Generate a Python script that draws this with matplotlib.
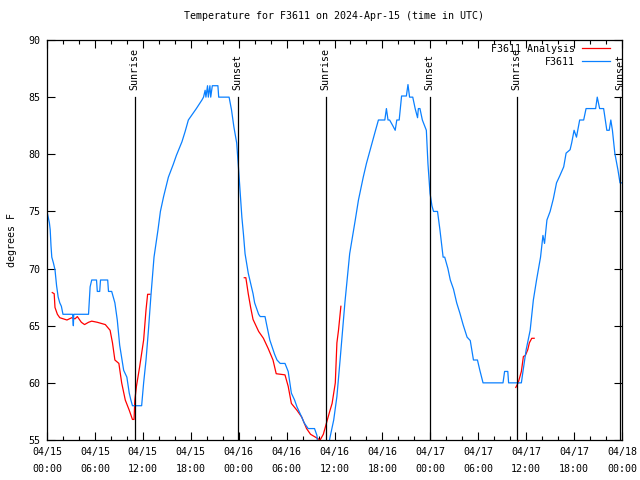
import numpy as np
import matplotlib
matplotlib.use("Agg")
import matplotlib.pyplot as plt

# ---- data (hours since 2024-04-15 00:00 UTC, degrees F) ----
obs_h = [0.0,0.3,0.4,0.5,0.6,0.8,1.0,1.2,1.4,1.6,1.8,2.0,3.2,3.3,3.35,5.2,5.4,5.6,6.2,6.3,6.6,6.7,7.6,7.7,8.1,8.3,8.5,8.7,8.8,9.0,9.1,9.4,9.6,10.0,10.3,10.5,10.7,11.85,12.1,12.4,12.7,13.0,13.4,13.9,14.2,14.6,15.2,15.8,16.2,16.9,17.3,17.7,18.7,19.4,19.6,19.8,19.9,20.1,20.2,20.4,20.5,20.7,21.4,21.5,22.8,23.1,23.4,23.75,24.0,24.2,24.4,24.6,24.8,25.2,25.4,25.8,26.0,26.5,26.7,27.3,27.5,27.9,28.5,28.8,29.2,29.8,30.2,30.6,31.0,31.3,31.9,32.2,32.7,33.5,33.8,33.9,35.3,35.4,35.9,36.3,36.7,37.3,37.9,38.6,39.0,39.6,40.0,40.7,41.1,41.5,42.3,42.5,42.7,42.9,43.3,43.6,43.8,44.1,44.4,45.0,45.2,45.4,45.8,46.1,46.4,46.5,46.7,47.0,47.5,47.7,47.96,48.2,48.4,48.9,49.2,49.6,49.8,50.2,50.5,50.9,51.3,51.7,52.1,52.6,53.0,53.4,53.9,54.2,54.6,57.1,57.3,57.7,57.8,59.4,59.6,60.0,60.5,60.9,61.3,61.8,62.1,62.3,62.6,63.0,63.4,63.8,64.2,64.7,65.0,65.5,65.7,66.0,66.3,66.7,67.2,67.5,68.7,68.9,69.2,69.7,70.1,70.4,70.6,70.8,71.1,71.5,71.75,71.95]
obs_t = [75.0,74,73.4,72,71,70.5,69.9,68.5,67.5,67,66.7,66,66,65,66,66,68.4,69,69,68,68,69,69,68,68,67.5,67,66,65.5,64,63.3,62,61.1,60.5,59.1,58.5,58,58,60,62,64.6,67.5,71,73.4,75,76.3,78,79.1,79.9,81.1,82,83,84,84.75,85,85.6,85,86,85,86,85,86,86,85,85,83.9,82.4,81,78.6,76.5,74.5,73,71.3,69.6,69,67.8,67,66,65.8,65.8,65.1,63.75,62.5,62,61.7,61.7,61,59.1,58.5,57.9,57.0,56.5,56.0,56.0,55.4,54.5,54.5,55.1,56.75,58.8,62,67,71.3,74.25,76,78,79.2,81,82,83,83,84,83,83,82.5,82.1,83,83,85.1,85.1,86.1,85,85,84,83.2,84,84,83,82.1,79.2,76.6,75.5,75,75,73.4,71.0,71,70,69,68.2,67,66.1,65.1,64,63.7,62,62,61.1,60,60,61,61,60,60,61,62.9,64.6,67.25,69,71,72.9,72.2,74.25,75,76.1,77.5,78.1,78.9,80.1,80.4,81,82.1,81.5,83,83,84,84,85,84,84,82.1,82.1,83,82.1,80.1,78.6,77.5,77.5]

ana1_h = [0.66,0.9,1.0,1.3,1.6,2.5,3.1,3.5,3.8,4.0,4.3,4.7,5.2,5.6,6.3,7.3,7.9,8.2,8.5,9.0,9.35,9.8,10.3,10.7,10.9,11.0,11.2,11.6,12.1,12.4,12.6,12.9]
ana1_t = [67.9,67.8,66.6,66,65.7,65.5,65.7,65.6,65.8,65.6,65.3,65.1,65.3,65.4,65.3,65.1,64.6,63.5,62,61.7,60,58.5,57.6,56.8,56.8,58.5,59.7,61.4,63.75,66.4,67.75,67.75]
ana2_h = [24.7,24.9,25.2,25.5,25.8,26.5,27.1,27.7,28.3,28.7,29.8,30.2,30.6,31.3,31.9,32.5,33.0,33.85,34.2,34.6,35.0,35.4,35.7,36.1,36.3,36.5,36.8]
ana2_t = [69.2,69.2,67.8,66.6,65.55,64.5,63.9,63.0,62,60.8,60.7,59.7,58.2,57.6,57.0,56,55.5,55.15,55.0,55.5,56.5,57.5,58.2,60,63.5,64.6,66.7]
ana3_h = [58.7,59.0,59.4,59.65,59.9,60.2,60.4,60.7,61.0]
ana3_t = [59.6,60,61,62.3,62.4,62.9,63.5,63.9,63.9]

sun_h = [11.0, 23.9, 34.9, 47.9, 58.8, 71.8]
sun_labels = ["Sunrise", "Sunset", "Sunrise", "Sunset", "Sunrise", "Sunset"]

xtick_h = [0, 6, 12, 18, 24, 30, 36, 42, 48, 54, 60, 66, 72]
xtick_labels = ["04/15\n00:00", "04/15\n06:00", "04/15\n12:00", "04/15\n18:00",
                "04/16\n00:00", "04/16\n06:00", "04/16\n12:00", "04/16\n18:00",
                "04/17\n00:00", "04/17\n06:00", "04/17\n12:00", "04/17\n18:00",
                "04/18\n00:00"]
yticks = [55, 60, 65, 70, 75, 80, 85, 90]

# ---- plot ----
plt.rcParams['font.family'] = ['DejaVu Sans Mono']
FS = 7.2
fig = plt.figure(figsize=(6.4, 4.8), dpi=100)
ax = fig.add_axes([47/640, 40/480, 575/640, 400/480])

blue = '#0a80ff'
red = '#ff0000'
lw = 0.9
ax.plot(ana1_h, ana1_t, color=red, lw=lw, label='F3611 Analysis')
ax.plot(ana2_h, ana2_t, color=red, lw=lw)
ax.plot(ana3_h, ana3_t, color=red, lw=lw)
ax.plot(obs_h, obs_t, color=blue, lw=lw, label='F3611')

for h, lab in zip(sun_h, sun_labels):
    ax.plot([h, h], [55, 85], color='black', lw=0.9)
    ax.text(h, 85.6, lab, rotation=90, ha='center', va='bottom', fontsize=FS,
            clip_on=False)

ax.set_xlim(0, 72)
ax.set_ylim(55, 90)
ax.set_xticks(xtick_h)
ax.set_xticklabels(xtick_labels, fontsize=FS, linespacing=1.9)
ax.set_xticks(np.arange(0, 73, 2), minor=True)
ax.set_yticks(yticks)
ax.set_yticklabels([str(v) for v in yticks], fontsize=FS)
ax.tick_params(axis='both', which='both', direction='in', top=True, right=True)
ax.tick_params(axis='both', which='major', length=6, width=0.8, pad=5)
ax.tick_params(axis='x', which='minor', length=3, width=0.8)
for s in ax.spines.values():
    s.set_linewidth(0.9)

ax.set_ylabel('degrees F', fontsize=FS, labelpad=8)
ax.set_title('Temperature for F3611 on 2024-Apr-15 (time in UTC)', fontsize=FS, pad=15)

leg = ax.legend(loc='upper right', bbox_to_anchor=((610-47)/575, (440-44)/400),
                frameon=False, markerfirst=False, fontsize=FS,
                handlelength=2.8, handletextpad=0.7, borderaxespad=0, borderpad=0,
                labelspacing=0.3)
for t in leg.get_texts():
    t.set_ha('right')

fig.savefig('out.png', dpi=100)
